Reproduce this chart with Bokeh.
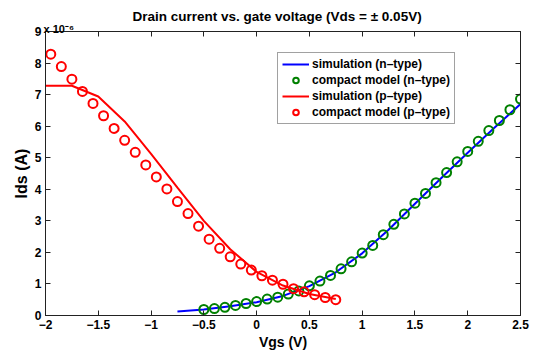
from bokeh.plotting import figure
from bokeh.models import Range1d, FixedTicker, LinearAxis, Title, Legend, LegendItem
from bokeh.embed import file_html
from bokeh.resources import INLINE

# ---- data (Ids in units of 1e-6 A) ----
n_sim_vgs = [-0.75, -0.5, -0.25, 0.0, 0.25, 0.5, 0.75, 1.0, 1.25, 1.5, 1.75, 2.0, 2.25, 2.5]
n_sim_ids = [0.13, 0.19, 0.29, 0.42, 0.62, 0.93, 1.37, 1.97, 2.72, 3.54, 4.36, 5.16, 5.94, 6.70]

n_model_vgs = [-0.5, -0.4, -0.3, -0.2, -0.1, 0.0, 0.1, 0.2, 0.3, 0.4, 0.5, 0.6, 0.7, 0.8, 0.9, 1.0,
               1.1, 1.2, 1.3, 1.4, 1.5, 1.6, 1.7, 1.8, 1.9, 2.0, 2.1, 2.2, 2.3, 2.4, 2.5]
n_model_ids = [0.19, 0.22, 0.26, 0.32, 0.38, 0.44, 0.52, 0.58, 0.68, 0.78, 0.94, 1.09, 1.27, 1.48, 1.70, 1.98,
               2.22, 2.56, 2.89, 3.22, 3.56, 3.87, 4.21, 4.53, 4.87, 5.20, 5.52, 5.86, 6.18, 6.52, 6.86]

p_sim_vgs = [-2.0, -1.75, -1.5, -1.25, -1.0, -0.75, -0.5, -0.25, 0.0, 0.25, 0.5, 0.75]
p_sim_ids = [7.28, 7.28, 6.94, 6.15, 5.12, 4.05, 3.00, 2.10, 1.38, 0.95, 0.68, 0.52]

p_model_vgs = [-1.95, -1.85, -1.75, -1.65, -1.55, -1.45, -1.35, -1.25, -1.15, -1.05, -0.95, -0.85, -0.75, -0.65,
               -0.55, -0.45, -0.35, -0.25, -0.15, -0.05, 0.05, 0.15, 0.25, 0.35, 0.45, 0.55, 0.65, 0.75]
p_model_ids = [8.28, 7.89, 7.49, 7.10, 6.72, 6.33, 5.93, 5.55, 5.17, 4.77, 4.39, 4.01, 3.61, 3.23,
               2.83, 2.42, 2.13, 1.86, 1.63, 1.44, 1.26, 1.12, 0.99, 0.85, 0.75, 0.66, 0.57, 0.50]

x_ticks = [-2, -1.5, -1, -0.5, 0, 0.5, 1, 1.5, 2, 2.5]
x_tick_labels = ["\u22122", "\u22121.5", "\u22121", "\u22120.5", "0", "0.5", "1", "1.5", "2", "2.5"]
y_ticks = [0, 1, 2, 3, 4, 5, 6, 7, 8, 9]
y_tick_labels = ["0", "1", "2", "3", "4", "5", "6", "7", "8", "9"]
x_min, x_max = -2, 2.5
y_min, y_max = 0, 9

FONT = "Liberation Sans"
AX = "#222222"

p = figure(width=538, height=352, output_backend="svg", toolbar_location=None,
           x_range=Range1d(x_min, x_max), y_range=Range1d(y_min, y_max),
           min_border_left=45, min_border_right=18, min_border_top=31, min_border_bottom=35)

p.xgrid.visible = False
p.ygrid.visible = False
p.outline_line_color = AX
p.outline_line_width = 1
p.background_fill_color = "white"
p.border_fill_color = "white"

def style_axis(ax, ticks, labels, show_labels=True):
    ax.ticker = FixedTicker(ticks=ticks)
    ax.major_tick_in = 5
    ax.major_tick_out = 0
    ax.minor_tick_in = 0
    ax.minor_tick_out = 0
    ax.axis_line_color = AX
    ax.major_tick_line_color = AX
    ax.major_label_text_font = FONT
    ax.major_label_text_font_style = "bold"
    ax.major_label_text_color = "black"
    if show_labels:
        ax.major_label_overrides = {t: l for t, l in zip(ticks, labels)}
        ax.major_label_text_font_size = "12px"
        ax.major_label_standoff = 4
    else:
        ax.major_label_overrides = {t: "" for t in ticks}
        ax.major_label_text_font_size = "1px"
        ax.major_label_standoff = 0

style_axis(p.xaxis[0], x_ticks, x_tick_labels)
style_axis(p.yaxis[0], y_ticks, y_tick_labels)
p.xaxis[0].axis_label = "Vgs (V)"
p.yaxis[0].axis_label = "Ids (A)"
for ax, size in ((p.xaxis[0], "14px"), (p.yaxis[0], "16px")):
    ax.axis_label_text_font = FONT
    ax.axis_label_text_font_size = size
    ax.axis_label_text_font_style = "bold"
    ax.axis_label_text_color = "black"
    ax.axis_label_standoff = 2

# mirrored (label-free) axes on top and right, as in the MATLAB box
top_ax = LinearAxis()
style_axis(top_ax, x_ticks, x_tick_labels, show_labels=False)
p.add_layout(top_ax, "above")
right_ax = LinearAxis()
style_axis(right_ax, y_ticks, y_tick_labels, show_labels=False)
p.add_layout(right_ax, "right")

# exponent marker (nearest the box) and main title (outermost)
exp_title = Title(text="x 10\u207b\u2076", align="left", offset=-2, standoff=-6,
                  text_font=FONT, text_font_size="11px", text_font_style="bold", text_color="black")
p.add_layout(exp_title, "above")
main_title = Title(text="Drain current vs. gate voltage (Vds = \u00b1 0.05V)", align="left", offset=87,
                   standoff=0, text_font=FONT, text_font_size="13.5px", text_font_style="bold",
                   text_color="black")
p.add_layout(main_title, "above")

r1 = p.line(n_sim_vgs, n_sim_ids, line_color="#0000ff", line_width=2)
r2 = p.scatter(n_model_vgs, n_model_ids, marker="circle", size=9, fill_color=None,
               line_color="#008000", line_width=2)
r3 = p.line(p_sim_vgs, p_sim_ids, line_color="#ff0000", line_width=2)
r4 = p.scatter(p_model_vgs, p_model_ids, marker="circle", size=9, fill_color=None,
               line_color="#ff0000", line_width=2)

legend = Legend(items=[
    LegendItem(label="simulation (n\u2013type)", renderers=[r1]),
    LegendItem(label="compact model (n\u2013type)", renderers=[r2]),
    LegendItem(label="simulation (p\u2013type)", renderers=[r3]),
    LegendItem(label="compact model (p\u2013type)", renderers=[r4]),
], location=(232, 191))
legend.label_text_font = FONT
legend.label_text_font_size = "12px"
legend.label_text_font_style = "bold"
legend.label_text_color = "black"
legend.glyph_width = 27
legend.glyph_height = 14
legend.label_height = 14
legend.label_standoff = 3
legend.spacing = 2
legend.padding = 4
legend.margin = 0
legend.border_line_color = "#444444"
legend.border_line_width = 1
legend.background_fill_alpha = 1
p.add_layout(legend, "center")

open("out.html", "w").write(file_html(p, INLINE))
